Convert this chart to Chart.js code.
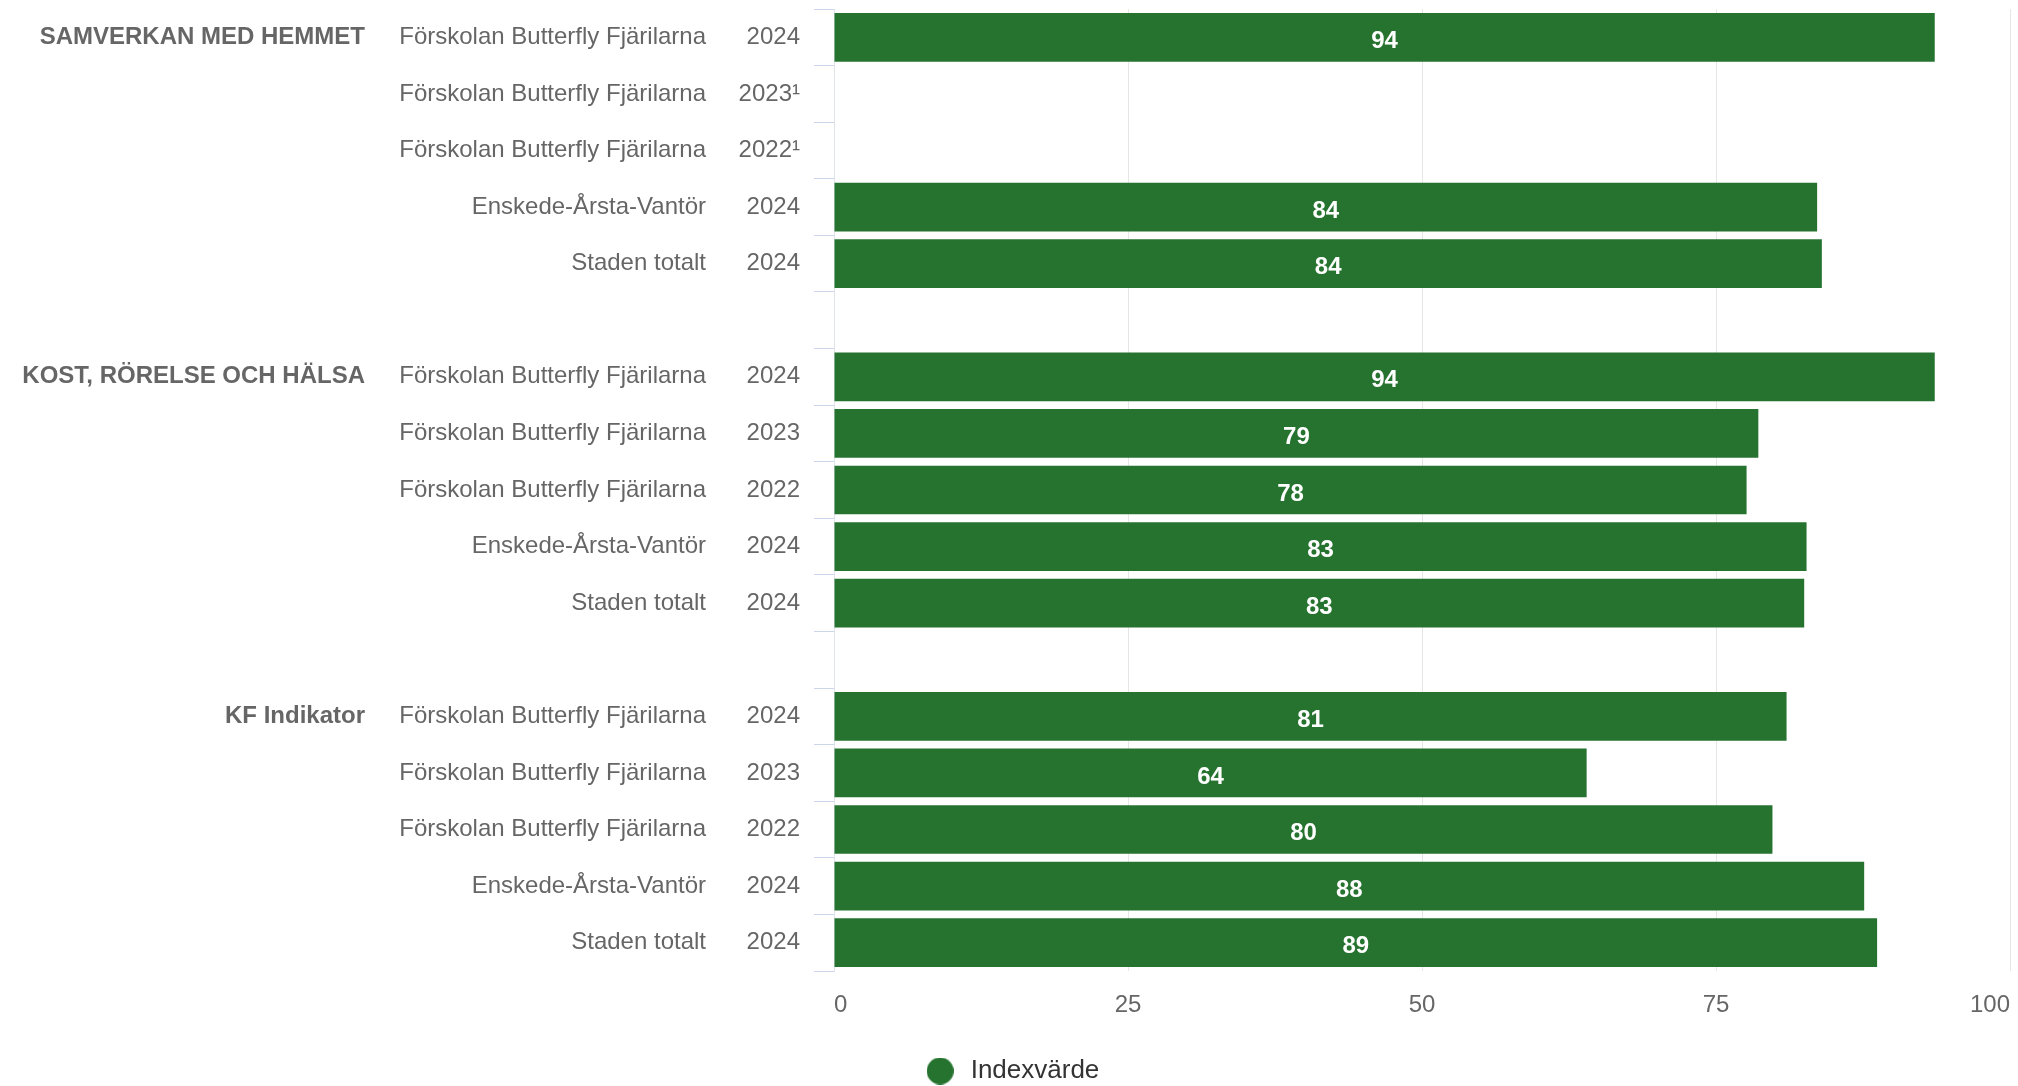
<!DOCTYPE html>
<html lang="sv">
<head>
<meta charset="utf-8">
<title>Indexvärde</title>
<script src="https://cdn.jsdelivr.net/npm/chart.js@4.4.1/dist/chart.umd.min.js"></script>
<style>
  html, body { margin: 0; padding: 0; background: #fff; }
  #wrap { width: 2018px; height: 1086px; position: relative; }
</style>
</head>
<body>
<div id="wrap"><canvas id="index-chart"></canvas></div>
<script>
// one row per bar, blank rows separate the three groups
const groupLabels = [
  "SAMVERKAN MED HEMMET", "", "", "", "", "",
  "KOST, RÖRELSE OCH HÄLSA", "", "", "", "", "",
  "KF Indikator", "", "", "", ""
];
const unitLabels = [
  "Förskolan Butterfly Fjärilarna", "Förskolan Butterfly Fjärilarna", "Förskolan Butterfly Fjärilarna", "Enskede-Årsta-Vantör", "Staden totalt", "",
  "Förskolan Butterfly Fjärilarna", "Förskolan Butterfly Fjärilarna", "Förskolan Butterfly Fjärilarna", "Enskede-Årsta-Vantör", "Staden totalt", "",
  "Förskolan Butterfly Fjärilarna", "Förskolan Butterfly Fjärilarna", "Förskolan Butterfly Fjärilarna", "Enskede-Årsta-Vantör", "Staden totalt"
];
const yearLabels = [
  "2024", "2023¹", "2022¹", "2024", "2024", "",
  "2024", "2023", "2022", "2024", "2024", "",
  "2024", "2023", "2022", "2024", "2024"
];
const indexValues = [
  93.6, null, null, 83.6, 84.0, null,
  93.6, 78.6, 77.6, 82.7, 82.5, null,
  81.0, 64.0, 79.8, 87.6, 88.7
];
const xTicks = [0, 25, 50, 75, 100];

const FONT = '"Liberation Sans", Arial, Helvetica, sans-serif';
const GREEN = "#267330";
const GREY = "#666666";

// legend marker: plain filled circle
const marker = document.createElement("canvas");
marker.width = 27;
marker.height = 27;
{
  const m = marker.getContext("2d");
  m.fillStyle = GREEN;
  m.beginPath();
  m.arc(13.5, 13.5, 13.5, 0, Math.PI * 2);
  m.fill();
}

// white value labels centred in each bar
const barLabels = {
  id: "barLabels",
  afterDatasetsDraw(chart) {
    const ctx = chart.ctx;
    const meta = chart.getDatasetMeta(0);
    ctx.save();
    ctx.font = "bold 24px " + FONT;
    ctx.fillStyle = "#ffffff";
    ctx.textAlign = "center";
    ctx.textBaseline = "middle";
    meta.data.forEach((bar, i) => {
      const v = indexValues[i];
      if (v == null) return;
      const p = bar.getProps(["x", "y", "base"], true);
      ctx.fillText(String(Math.round(v)), (p.x + p.base) / 2, p.y + 4);
    });
    ctx.restore();
  }
};

// legend sits a little right of the canvas centre
const legendNudge = {
  id: "legendNudge",
  afterLayout(chart) {
    if (!chart.legend) return;
    chart.legend.left += 6;
    chart.legend.right += 6;
  }
};

// fixed box sizes, no extra label padding around the plot
function fixWidth(w) {
  return (s) => {
    s.width = w;
    s.paddingTop = 0;
    s.paddingBottom = 0;
  };
}

const chart = new Chart("index-chart", {
  type: "bar",
  data: {
    labels: yearLabels,
    datasets: [
      {
        label: "Indexvärde",
        data: indexValues,
        backgroundColor: GREEN,
        borderWidth: 0,
        barPercentage: 0.86,
        categoryPercentage: 1,
        pointStyle: marker
      }
    ]
  },
  options: {
    indexAxis: "y",
    responsive: true,
    maintainAspectRatio: false,
    animation: false,
    layout: { padding: { top: 9, right: 8, left: 0, bottom: -8 } },
    plugins: {
      tooltip: { enabled: false },
      legend: {
        position: "bottom",
        labels: {
          usePointStyle: true,
          pointStyleWidth: 35,
          boxHeight: 26,
          padding: 2,
          color: "#333333",
          font: { family: FONT, size: 26 }
        }
      }
    },
    scales: {
      x: {
        min: 0,
        max: 100,
        afterBuildTicks: (s) => { s.ticks = xTicks.map((v) => ({ value: v })); },
        afterFit: (s) => {
          s.height = 85;
          s.paddingLeft = 0;
          s.paddingRight = 0;
        },
        grid: { color: "#e6e6e6", drawTicks: false },
        border: { display: false },
        ticks: { align: "inner", padding: 20, color: GREY, font: { family: FONT, size: 24 } }
      },
      y: {
        position: "left",
        weight: 0,
        offset: true,
        afterFit: fixWidth(100),
        grid: { offset: true, drawOnChartArea: false, drawTicks: true, tickLength: 20, color: "#ccd6eb" },
        border: { display: true, color: "#dfe3ea" },
        ticks: { autoSkip: false, padding: 14, color: GREY, font: { family: FONT, size: 24 } }
      },
      yUnit: {
        type: "category",
        position: "left",
        weight: 1,
        offset: true,
        labels: unitLabels,
        afterFit: fixWidth(354),
        grid: { display: false, drawTicks: false },
        border: { display: false },
        ticks: { autoSkip: false, padding: 28, color: GREY, font: { family: FONT, size: 24 } }
      },
      yGroup: {
        type: "category",
        position: "left",
        weight: 2,
        offset: true,
        labels: groupLabels,
        afterFit: fixWidth(380),
        grid: { display: false, drawTicks: false },
        border: { display: false },
        ticks: { autoSkip: false, padding: 15, color: GREY, font: { family: FONT, size: 24, weight: "bold" } }
      }
    }
  },
  plugins: [barLabels, legendNudge]
});
</script>
</body>
</html>
